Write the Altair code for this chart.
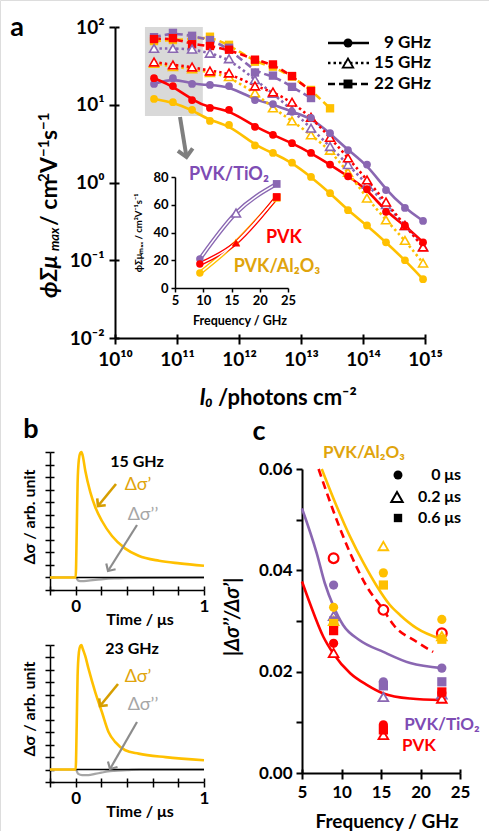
import math
import altair as alt
import pandas as pd

W, H = 489, 831
FONT = "Lato"
RED, PUR, YEL = "#FF0000", "#8A67B2", "#FFC000"
PUR_T, YEL_T = "#7E4CB4", "#E0A40C"
GREY_ARROW = "#7F7F7F"
GREY_S = "#A6A6A6"
ORANGE_ARR = "#D69E00"

SAMPLES = ["PVK/Al2O3", "PVK/TiO2", "PVK"]
COLORS = [YEL, PUR, RED]

# ---------------- panel a : mobility vs intensity ----------------
intensity = [4.26e10, 8.6e10, 1.75e11, 3.4e11, 6.9e11, 1.81e12, 3.53e12, 7.16e12,
             1.45e13, 2.94e13, 5.73e13, 1.16e14, 2.35e14, 4.75e14, 9.3e14]
pvk_9 = [22, 17.4, 11.5, 9.1, 8.6, 5.2, 4.1, 3.2, 2.4, 1.7, 1.2, 0.82, 0.42, 0.28, 0.17]
tio2_9 = [18.5, 22, 18.5, 18, 17.4, 11.5, 10.2, 8.1, 6.8, 4.3, 2.6, 1.7, 0.80, 0.47, 0.32]
al_9 = [11.9, 10.8, 8.6, 6.2, 5.5, 3.0, 2.4, 1.8, 1.18, 0.73, 0.44, 0.28, 0.17, 0.10, 0.057]
pvk_15 = [35.5, 32.5, 30.6, 27.2, 25.6, 17.4, 14.6, 10.8, 6.9, 3.8, 2.07, 1.08, 0.56, 0.28, 0.148]
tio2_15 = [53, 53, 52, 46, 39, 21, 14, 8.5, 5.0, 2.9, 1.7, 0.95, 0.52, 0.28, 0.15]
al_15 = [34, 31, 29, 26, 23, 14.2, 9.1, 6.2, 4.1, 2.6, 1.35, 0.63, 0.33, 0.18, 0.092]
pvk_22 = [70, 72, 60, 57, 51, 38, 33, 23.4, 15]
tio2_22 = [74, 84, 77, 68, 54, 26, 23.7, 17, 12.2]
al_22 = [66, 68, 70, 75, 59, 35.8, 30.9, 23, 15.5, 9.0]

# highlighted region (grey box)
box_I0 = [3.04e10, 2.61e11]
box_mu = [7.16, 100]

# inset: mobility at low intensity vs frequency
inset_freq = [9.4, 15.8, 23.0]
inset_tio2 = [20.9, 54, 75]
inset_pvk = [17.3, 32.6, 65.6]
inset_al = [10.8, 33, 65]

# ---------------- panel b : transients ----------------
t_15 = [-0.2, 0, 0.008, 0.015, 0.025, 0.035, 0.045, 0.055, 0.075, 0.114, 0.153, 0.205,
        0.283, 0.387, 0.49, 0.65, 0.81, 1.0]
re_15 = [0, 0, 0.35, 0.75, 0.94, 0.99, 1.0, 0.97, 0.85, 0.68, 0.56, 0.45,
         0.33, 0.23, 0.173, 0.133, 0.112, 0.093]
ti_15 = [-0.2, 0, 0.02, 0.05, 0.1, 0.2, 0.3, 0.5, 1.0]
im_15 = [0, 0, -0.025, -0.03, -0.025, -0.015, -0.008, -0.003, 0]
t_23 = [-0.2, 0, 0.008, 0.015, 0.025, 0.035, 0.045, 0.055, 0.075, 0.10, 0.153, 0.205,
        0.257, 0.309, 0.387, 0.49, 0.70, 1.0]
re_23 = [0, 0, 0.35, 0.75, 0.94, 0.99, 1.0, 0.97, 0.91, 0.81, 0.62, 0.46,
         0.30, 0.22, 0.155, 0.128, 0.10, 0.075]
ti_23 = [-0.2, 0, 0.02, 0.05, 0.1, 0.15, 0.2, 0.25, 0.3, 0.4, 0.5, 1.0]
im_23 = [0, 0, -0.035, -0.045, -0.045, -0.035, -0.025, -0.015, -0.01, -0.005, 0, 0]
zero_t = [0, 1]
zero_s = [0, 0]

# ---------------- panel c : ratio vs frequency ----------------
c_freq = [9.0, 15.3, 22.7]
c_al_0 = [0.0327, 0.0395, 0.0303]
c_al_02 = [0.0300, 0.0448, 0.0270]
c_al_06 = [0.0295, 0.0371, 0.0264]
c_ti_0 = [0.0371, 0.0180, 0.0207]
c_ti_02 = [0.0310, 0.0150, 0.0155]
c_ti_06 = [0.0300, 0.0172, 0.0180]
c_pvk_0 = [0.0256, 0.0095, 0.0158]
c_pvk_02 = [0.0237, 0.0075, 0.0147]
c_pvk_06 = [0.0281, 0.0085, 0.0160]
c_pvk_open = [0.0424, 0.0322, 0.0276]

fit_al_f = [7.5, 9.4, 11.1, 12.8, 14.5, 16.1, 17.4, 19.5, 22.7]
fit_al_r = [0.06, 0.0526, 0.0466, 0.0414, 0.0368, 0.0332, 0.0312, 0.0286, 0.0264]
fit_dash_f = [7.1, 8.76, 11.1, 13.2, 15.3, 16.6, 19.5, 21.6]
fit_dash_r = [0.06, 0.0526, 0.0434, 0.0368, 0.0322, 0.0292, 0.0259, 0.0239]
fit_ti_f = [5, 6.86, 7.9, 8.96, 10.2, 12.3, 15.3, 18.7, 22.7]
fit_ti_r = [0.0522, 0.0434, 0.0374, 0.0330, 0.0292, 0.0262, 0.0239, 0.0217, 0.0207]
fit_pvk_f = [5, 6, 7.7, 8.96, 11.1, 13.2, 15.3, 18.7, 22.7]
fit_pvk_r = [0.0378, 0.0335, 0.0269, 0.0236, 0.0197, 0.0174, 0.0157, 0.0147, 0.0144]

# ================= tables =================
rows = []
for s, f, vals in [("PVK/Al2O3", 9, al_9), ("PVK/TiO2", 9, tio2_9), ("PVK", 9, pvk_9),
                   ("PVK/Al2O3", 15, al_15), ("PVK/TiO2", 15, tio2_15), ("PVK", 15, pvk_15),
                   ("PVK/Al2O3", 22, al_22), ("PVK/TiO2", 22, tio2_22), ("PVK", 22, pvk_22)]:
    for i, v in zip(intensity, vals):
        rows.append({"sample": s, "freq": f, "I0": i, "mu": v})
dfa = pd.DataFrame(rows)
box = pd.DataFrame({"x1": [box_I0[0]], "x2": [box_I0[1]], "y1": [box_mu[0]], "y2": [box_mu[1]]})

rows = []
for s, vals in [("PVK/TiO2", inset_tio2), ("PVK/Al2O3", inset_al), ("PVK", inset_pvk)]:
    for k, (f, v) in enumerate(zip(inset_freq, vals)):
        rows.append({"sample": s, "f": f, "v": v, "k": k})
dfi = pd.DataFrame(rows)

def tdf(t, s):
    return pd.DataFrame({"t": t, "s": s})

rows = []
for s, tm, vals in [("PVK/TiO2", 0, c_ti_0), ("PVK/TiO2", 0.2, c_ti_02), ("PVK/TiO2", 0.6, c_ti_06),
                    ("PVK/Al2O3", 0, c_al_0), ("PVK/Al2O3", 0.2, c_al_02), ("PVK/Al2O3", 0.6, c_al_06),
                    ("PVK", 0, c_pvk_0), ("PVK", 0.2, c_pvk_02), ("PVK", 0.6, c_pvk_06)]:
    for f, v in zip(c_freq, vals):
        rows.append({"sample": s, "time": tm, "f": f, "r": v})
dfc = pd.DataFrame(rows)
dfc_open = pd.DataFrame({"sample": "PVK", "f": c_freq, "r": c_pvk_open})
fits = pd.concat([
    pd.DataFrame({"sample": "PVK/TiO2", "f": fit_ti_f, "r": fit_ti_r}),
    pd.DataFrame({"sample": "PVK", "f": fit_pvk_f, "r": fit_pvk_r}),
    pd.DataFrame({"sample": "PVK/Al2O3", "f": fit_al_f, "r": fit_al_r}),
])
fit_dash = pd.DataFrame({"sample": "PVK", "f": fit_dash_f, "r": fit_dash_r})

csc = alt.Scale(domain=SAMPLES, range=COLORS)
col = alt.Color("sample:N", scale=csc, legend=None)
stk = alt.Stroke("sample:N", scale=csc, legend=None)

AX = dict(grid=False, title=None, domainColor="black", tickColor="black", labelColor="black",
          labelFont=FONT, labelFontWeight="bold", labelFlush=False, labelOverlap=False)

SUP = "['⁰','¹','²','³','⁴','⁵','⁶','⁷','⁸','⁹']"
EXP = "round(log(datum.value)/LN10)"

# ---- scales ----
SC_XA = alt.Scale(type="log", domain=[1e10, 1e15], range=[115, 425], nice=False)
SC_YA = alt.Scale(type="log", domain=[0.01, 100], range=[338, 27], nice=False)
SC_XI = alt.Scale(domain=[5, 25], range=[175, 288], nice=False)
SC_YI = alt.Scale(domain=[0, 80], range=[288, 177], nice=False)
SC_XB = alt.Scale(domain=[-0.2, 1], range=[50, 204], nice=False)
SC_XC = alt.Scale(domain=[5, 25], range=[302, 460], nice=False)
SC_YC = alt.Scale(domain=[0, 0.06], range=[773, 469], nice=False)
XA_VALS = [1e10, 1e11, 1e12, 1e13, 1e14, 1e15]
YA_VALS = [0.01, 0.1, 1, 10, 100]
XB_VALS = [-0.2, 0, 0.2, 0.4, 0.6, 0.8, 1.0]
YB_VALS = [-0.1, 0, 0.1, 0.2, 0.3, 0.4, 0.5, 0.6, 0.7, 0.8, 0.9, 1.0]
XC_VALS = [5, 10, 15, 20, 25]

def xa(f="I0"):
    return alt.X(f"{f}:Q", scale=SC_XA,
                 axis=alt.Axis(orient="bottom", offset=338 - H, values=XA_VALS,
                               labelExpr="'10¹' + " + SUP + "[" + EXP + " - 10]",
                               labelFontSize=19, labelPadding=6, tickSize=6, tickWidth=2, domainWidth=2, **AX))

def ya(f="mu"):
    return alt.Y(f"{f}:Q", scale=SC_YA,
                 axis=alt.Axis(orient="left", offset=-115, values=YA_VALS,
                               labelExpr="'10' + (" + EXP + " < 0 ? '⁻' : '') + " + SUP + "[abs(" + EXP + ")]",
                               labelFontSize=19, labelPadding=5, tickSize=6, tickWidth=2, domainWidth=2, **AX))

def xi():
    return alt.X("f:Q", scale=SC_XI,
                 axis=alt.Axis(orient="bottom", offset=288 - H, values=[5, 10, 15, 20, 25],
                               labelFontSize=13, labelPadding=2, tickSize=4, tickWidth=1.5, domainWidth=1.5, **AX))

def yi():
    return alt.Y("v:Q", scale=SC_YI,
                 axis=alt.Axis(orient="left", offset=-175, values=[0, 20, 40, 60, 80],
                               labelFontSize=13, labelPadding=3, tickSize=4, tickWidth=1.5, domainWidth=1.5, **AX))

def xb(bottom):
    return alt.X("t:Q", scale=SC_XB,
                 axis=alt.Axis(orient="bottom", offset=bottom - H, values=XB_VALS,
                               labelExpr="datum.value == 0 ? '0' : (datum.value == 1 ? '1' : '')",
                               labelFontSize=17, labelPadding=3, tickSize=5, tickWidth=1.5, domainWidth=1.5, **AX))

def sc_yb(bottom, top):
    return alt.Scale(domain=[-0.1, 1], range=[bottom, top], nice=False)

def yb(bottom, top):
    return alt.Y("s:Q", scale=sc_yb(bottom, top),
                 axis=alt.Axis(orient="left", offset=-50, values=YB_VALS,
                               labels=False, tickSize=5, tickWidth=1.5, domainWidth=1.5, **AX))

def xc():
    return alt.X("f:Q", scale=SC_XC,
                 axis=alt.Axis(orient="bottom", offset=773 - H, values=XC_VALS,
                               labelFontSize=17, labelPadding=5, tickSize=6, tickWidth=2, domainWidth=2, **AX))

def yc():
    return alt.Y("r:Q", scale=SC_YC,
                 axis=alt.Axis(orient="left", offset=-302, values=[0, 0.01, 0.02, 0.03, 0.04, 0.05, 0.06],
                               labelExpr="round(datum.value*100) % 2 == 0 ? format(datum.value, '.2f') : ''",
                               labelFontSize=17, labelPadding=4, tickSize=6, tickWidth=2, domainWidth=2, **AX))

# ghost axes: inward half of the crossing tick marks
def ghost_x(df, field, scale, ypix, values, tick=4, width=2):
    return alt.Chart(df).mark_point(opacity=0).encode(
        x=alt.X(f"{field}:Q", scale=scale,
                axis=alt.Axis(orient="top", offset=-ypix, values=values, labels=False, domain=False,
                              tickSize=tick, tickWidth=width, tickColor="black", grid=False, title=None)))

def ghost_y(df, field, scale, xpix, values, tick=4, width=2):
    return alt.Chart(df).mark_point(opacity=0).encode(
        y=alt.Y(f"{field}:Q", scale=scale,
                axis=alt.Axis(orient="right", offset=xpix - W, values=values, labels=False, domain=False,
                              tickSize=tick, tickWidth=width, tickColor="black", grid=False, title=None)))

# ---- annotation helpers ----
anno = pd.DataFrame({"k": [0]})

def text(s, x, y, size, color="black", angle=0, align="center", style="normal", weight="bold"):
    return alt.Chart(anno).mark_text(text=s, fontSize=size, color=color, angle=angle, align=align,
                                     baseline="middle", fontStyle=style, fontWeight=weight,
                                     font=FONT).encode(x=alt.value(x), y=alt.value(y))

def seg(x1, y1, x2, y2, color, width, dash=None):
    kw = dict(color=color, strokeWidth=width)
    if dash:
        kw["strokeDash"] = dash
    return alt.Chart(anno).mark_rule(**kw).encode(x=alt.value(x1), x2=alt.value(x2),
                                                   y=alt.value(y1), y2=alt.value(y2))

CHEVRON = "M-1,1L0,0L1,1"

def arrow(x1, y1, x2, y2, color, width, head):
    ang = math.degrees(math.atan2(x2 - x1, -(y2 - y1))) % 360
    shaft = seg(x1, y1, x2, y2, color, width)
    tip = alt.Chart(anno).mark_point(shape=CHEVRON, size=head * head, filled=False, color=color,
                                     strokeWidth=width, angle=ang, opacity=1,
                                     strokeJoin="miter").encode(x=alt.value(x2), y=alt.value(y2))
    return [shaft, tip]

def sym(shape, x, y, size, filled, color="black", sw=1.5):
    if filled:
        m = alt.Chart(anno).mark_point(shape=shape, size=size, filled=True, color=color, opacity=1)
    else:
        m = alt.Chart(anno).mark_point(shape=shape, size=size, filled=True, fill="white", stroke=color,
                                       strokeWidth=sw, opacity=1)
    return m.encode(x=alt.value(x), y=alt.value(y))

# ================= panel a =================
a_rect = alt.Chart(box).mark_rect(color="#D9D9D9").encode(x=xa("x1"), x2="x2:Q", y=ya("y1"), y2="y2:Q")
a_l9 = alt.Chart(dfa[dfa.freq == 9]).mark_line(strokeWidth=2.6, interpolate="basis").encode(x=xa(), y=ya(), color=col)
a_l15 = alt.Chart(dfa[dfa.freq == 15]).mark_line(strokeWidth=2.6, strokeDash=[2.5, 3], interpolate="basis").encode(x=xa(), y=ya(), color=col)
a_l22 = alt.Chart(dfa[dfa.freq == 22]).mark_line(strokeWidth=2.6, strokeDash=[7, 4], interpolate="basis").encode(x=xa(), y=ya(), color=col)
a_p22 = alt.Chart(dfa[dfa.freq == 22]).mark_point(shape="square", size=70, filled=True, opacity=1).encode(x=xa(), y=ya(), color=col)
a_p15 = alt.Chart(dfa[dfa.freq == 15]).mark_point(shape="triangle-up", size=80, filled=True, fill="white", strokeWidth=1.6, opacity=1).encode(x=xa(), y=ya(), stroke=stk)
a_p9 = alt.Chart(dfa[dfa.freq == 9]).mark_point(shape="circle", size=60, filled=True, opacity=1).encode(x=xa(), y=ya(), color=col)
panel_a = alt.layer(a_rect, a_l9, a_l15, a_l22, a_p22, a_p15, a_p9)

# inset
i_thick = alt.Chart(dfi).mark_line(strokeWidth=4.2, interpolate="monotone").encode(x=xi(), y=yi(), color=col)
i_thin = alt.Chart(dfi).mark_line(strokeWidth=1.5, interpolate="monotone", color="white").encode(x=xi(), y=yi(), detail="sample:N")
i_c = alt.Chart(dfi[dfi.k == 0]).mark_point(shape="circle", size=55, filled=True, opacity=1).encode(x=xi(), y=yi(), color=col)
i_t_open = alt.Chart(dfi[(dfi.k == 1) & (dfi["sample"] == "PVK/TiO2")]).mark_point(shape="triangle-up", size=80, filled=True, fill="white", strokeWidth=1.6, opacity=1).encode(x=xi(), y=yi(), stroke=stk)
i_t_fill = alt.Chart(dfi[(dfi.k == 1) & (dfi["sample"] != "PVK/TiO2")]).mark_point(shape="triangle-up", size=70, filled=True, opacity=1).encode(x=xi(), y=yi(), color=col)
i_s = alt.Chart(dfi[dfi.k == 2]).mark_point(shape="square", size=60, filled=True, opacity=1).encode(x=xi(), y=yi(), color=col)
inset = alt.layer(i_thick, i_thin, i_c, i_t_open, i_t_fill, i_s)

# ================= panel b =================
def transient(t, re, ti, im, bottom, top):
    l_re = alt.Chart(tdf(t, re)).mark_line(color=YEL, strokeWidth=2.6, interpolate="monotone").encode(x=xb(bottom), y=yb(bottom, top))
    l_im = alt.Chart(tdf(ti, im)).mark_line(color=GREY_S, strokeWidth=2.2, interpolate="monotone").encode(x=xb(bottom), y=yb(bottom, top))
    l_zero = alt.Chart(tdf(zero_t, zero_s)).mark_line(color="black", strokeWidth=1.6).encode(x=xb(bottom), y=yb(bottom, top))
    return alt.layer(l_im, l_zero, l_re)

panel_b1 = transient(t_15, re_15, ti_15, im_15, 590, 452)
panel_b2 = transient(t_23, re_23, ti_23, im_23, 782, 645)

# ================= panel c =================
c_fit = alt.Chart(fits).mark_line(strokeWidth=2.6, interpolate="monotone").encode(x=xc(), y=yc(), color=col)
c_dash = alt.Chart(fit_dash).mark_line(strokeWidth=2.6, strokeDash=[8, 5], interpolate="monotone").encode(x=xc(), y=yc(), color=col)
c_open = alt.Chart(dfc_open).mark_point(shape="circle", size=95, filled=True, fill="white", strokeWidth=2.2, opacity=1).encode(x=xc(), y=yc(), stroke=stk)
c_sq = alt.Chart(dfc[dfc.time == 0.6]).mark_point(shape="square", size=85, filled=True, opacity=1).encode(x=xc(), y=yc(), color=col)
c_tri = alt.Chart(dfc[dfc.time == 0.2]).mark_point(shape="triangle-up", size=95, filled=True, fill="white", strokeWidth=1.8, opacity=1).encode(x=xc(), y=yc(), stroke=stk)
c_cir = alt.Chart(dfc[dfc.time == 0]).mark_point(shape="circle", size=85, filled=True, opacity=1).encode(x=xc(), y=yc(), color=col)
panel_c = alt.layer(c_fit, c_dash, c_open, c_tri, c_sq, c_cir)

# crossing ticks
ghosts = [
    ghost_x(dfa, "I0", SC_XA, 338, XA_VALS),
    ghost_y(dfa, "mu", SC_YA, 115, YA_VALS),
    ghost_x(tdf(t_15, re_15), "t", SC_XB, 590, XB_VALS, 4, 1.5),
    ghost_y(tdf(t_15, re_15), "s", sc_yb(590, 452), 50, YB_VALS, 4, 1.5),
    ghost_x(tdf(t_23, re_23), "t", SC_XB, 782, XB_VALS, 4, 1.5),
    ghost_y(tdf(t_23, re_23), "s", sc_yb(782, 645), 50, YB_VALS, 4, 1.5),
    ghost_x(dfc, "f", SC_XC, 773, XC_VALS),
]

# ================= annotations =================
ann = []
# panel a
ann.append(text("a", 17, 28, 27))
# y title built piecewise (rotated, reading upwards)
YT = 50
for s, y, size, dx, style in [("ϕΣμ", 298, 23, 0, "italic"), ("max", 251, 13, 5, "italic"),
                              ("/ cm", 226, 23, 0, "normal"), ("2", 182, 15, -6, "normal"),
                              ("V", 173, 23, 0, "normal"), ("−1", 157, 15, -6, "normal"),
                              ("s", 140, 23, 0, "normal"), ("−1", 130, 15, -6, "normal")]:
    ann.append(text(s, YT + dx, y, size, angle=270, align="left", style=style))
ann.append(text("I₀", 213, 398, 22, align="right", style="italic"))
ann.append(text("/photons cm⁻²", 218, 398, 22, align="left"))
for y, lab, dash, shp, filled in [(43, "9 GHz", None, "circle", True),
                                   (63, "15 GHz", [2.5, 3], "triangle-up", False),
                                   (84, "22 GHz", [7, 4], "square", True)]:
    ann.append(seg(328, y, 369, y, "black", 2.6, dash))
    ann.append(sym(shp, 348, y, 80 if shp != "triangle-up" else 110, filled, sw=1.8))
    ann.append(text(lab, 431, y, 17, align="right"))
ann += arrow(180, 117, 186.5, 157, GREY_ARROW, 4, 15)
ann.append(text("PVK/TiO₂", 229, 175, 18, color=PUR_T))
ann.append(text("PVK", 284, 238, 18, color=RED))
ann.append(text("PVK/Al₂O₃", 277, 267, 18, color=YEL_T))
ann.append(text("ϕΣμₘₐₓ / cm²V⁻¹s⁻¹", 139, 233, 9.5, angle=270))
ann.append(text("Frequency / GHz", 240, 321, 12.5))
# panel b
ann.append(text("b", 31, 430, 27))
for off, lab in [(0, "15 GHz"), (192, "23 GHz")]:
    ann.append(text(lab, 137 - (5 if off else 0), 462 + off - (5 if off else 0), 16))
    ann.append(text("Δσ’", 138, 485 + off, 18, color=YEL_T, weight="normal"))
    ann.append(text("Δσ’’", 143, 515 + off - (2 if off else 0), 18, color=GREY_S, weight="normal"))
    ann.append(text("Δσ / arb. unit", 30, 522 + off - 5, 16, angle=270))
    ann.append(text("Time / μs", 140, 621 + off - 1, 16))
ann += arrow(116, 484, 98, 506, ORANGE_ARR, 2.6, 11)
ann += arrow(137, 525, 108, 571, "#8C8C8C", 2.2, 11)
ann += arrow(118, 684, 100, 706, ORANGE_ARR, 2.6, 11)
ann += arrow(137, 722, 110, 769, "#8C8C8C", 2.2, 11)
# panel c
ann.append(text("c", 259, 432, 27))
ann.append(text("PVK/Al₂O₃", 364, 453, 17, color=YEL_T))
ann.append(text("|Δσ’’/Δσ’|", 233, 617, 20, angle=270, style="italic"))
ann.append(text("Frequency / GHz", 387, 822, 19))
ann.append(sym("circle", 398, 475, 80, True))
ann.append(sym("triangle-up", 397, 497, 130, False, sw=2))
ann.append(sym("square", 398, 518, 70, True))
ann.append(text("0 μs", 461, 475, 16, align="right"))
ann.append(text("0.2 μs", 461, 497, 16, align="right"))
ann.append(text("0.6 μs", 461, 518, 16, align="right"))
ann.append(text("PVK/TiO₂", 442, 725, 17, color=PUR_T))
ann.append(text("PVK", 419, 746, 17, color=RED))

chart = alt.layer(panel_a, inset, panel_b1, panel_b2, panel_c, *ghosts, *ann).resolve_scale(
    x="independent", y="independent"
).properties(
    width=W, height=H, autosize=alt.AutoSizeParams(type="none"), padding=0
).configure_view(stroke=None).configure(font=FONT)

chart.save("out.html", embed_options={"renderer": "svg", "actions": False})
